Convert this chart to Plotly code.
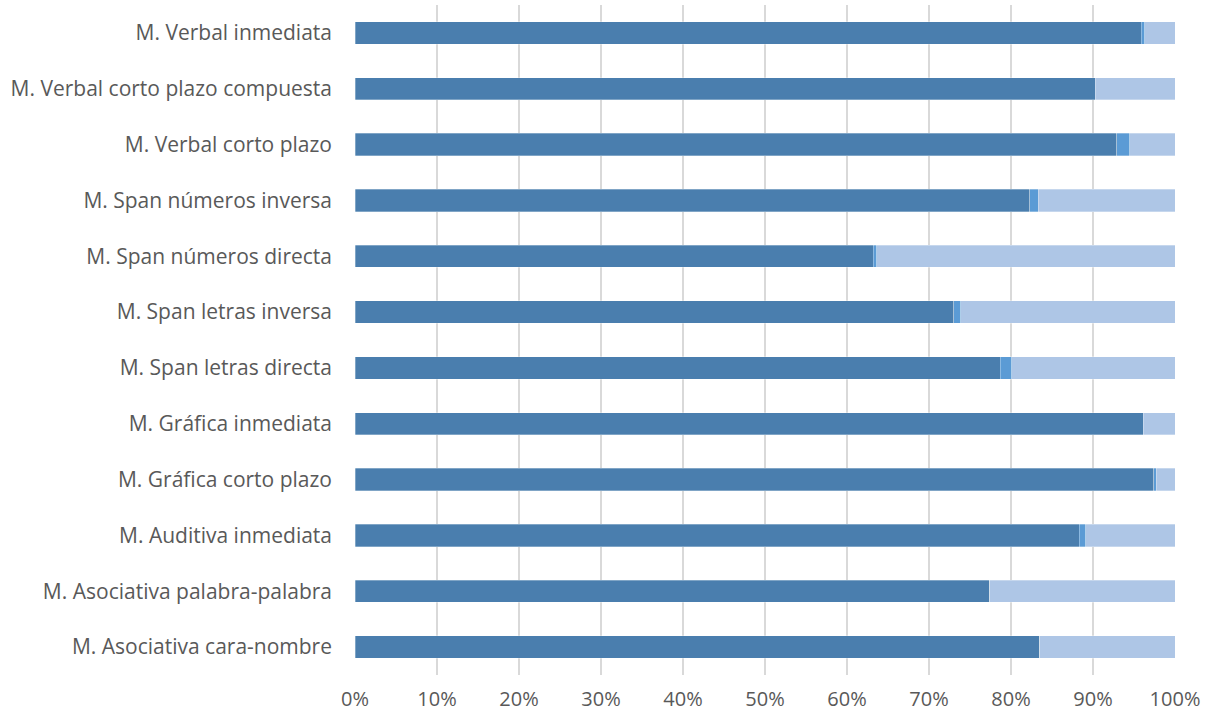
import plotly.graph_objects as go

categories = [
    "M. Asociativa cara-nombre",
    "M. Asociativa palabra-palabra",
    "M. Auditiva inmediata",
    "M. Gráfica corto plazo",
    "M. Gráfica inmediata",
    "M. Span letras directa",
    "M. Span letras inversa",
    "M. Span números directa",
    "M. Span números inversa",
    "M. Verbal corto plazo",
    "M. Verbal corto plazo compuesta",
    "M. Verbal inmediata",
]
serie1 = [83.5, 77.4, 88.3, 97.4, 96.1, 78.7, 73.0, 63.2, 82.3, 92.9, 90.3, 95.9]
serie2 = [0.0, 0.0, 0.8, 0.3, 0.0, 1.4, 0.9, 0.4, 1.0, 1.6, 0.0, 0.4]
serie3 = [round(100 - a - b, 1) for a, b in zip(serie1, serie2)]

colors = ["#4A7EAE", "#5B9BD5", "#AEC6E6"]
names = ["Serie 1", "Serie 2", "Serie 3"]

fig = go.Figure()
for vals, c, n in zip([serie1, serie2, serie3], colors, names):
    fig.add_trace(go.Bar(
        y=categories, x=[v / 100 for v in vals], orientation="h", name=n,
        marker=dict(color=c, line=dict(color="rgba(255,255,255,0.6)", width=0.5)),
        width=0.4,
    ))

fig.update_layout(
    barmode="stack",
    width=1212, height=717,
    margin=dict(l=355, r=37, t=5, b=42),
    plot_bgcolor="white", paper_bgcolor="white",
    showlegend=False,
    font=dict(family="Open Sans, sans-serif", size=21, color="#595959"),
    xaxis=dict(
        range=[0, 1], tickformat=".0%", dtick=0.1,
        showgrid=True, gridcolor="#D9D9D9", gridwidth=2,
        zeroline=False, showline=False, ticks="",
        ticklabelstandoff=10, automargin=False,
        tickfont=dict(size=20, color="#595959"),
    ),
    yaxis=dict(
        categoryorder="array", categoryarray=categories,
        range=[-0.5, 11.5],
        showgrid=False, zeroline=False, showline=False,
        ticks="", ticklabelstandoff=22, automargin=False,
        tickfont=dict(size=21, color="#595959"),
    ),
)
fig.write_html("out.html")
